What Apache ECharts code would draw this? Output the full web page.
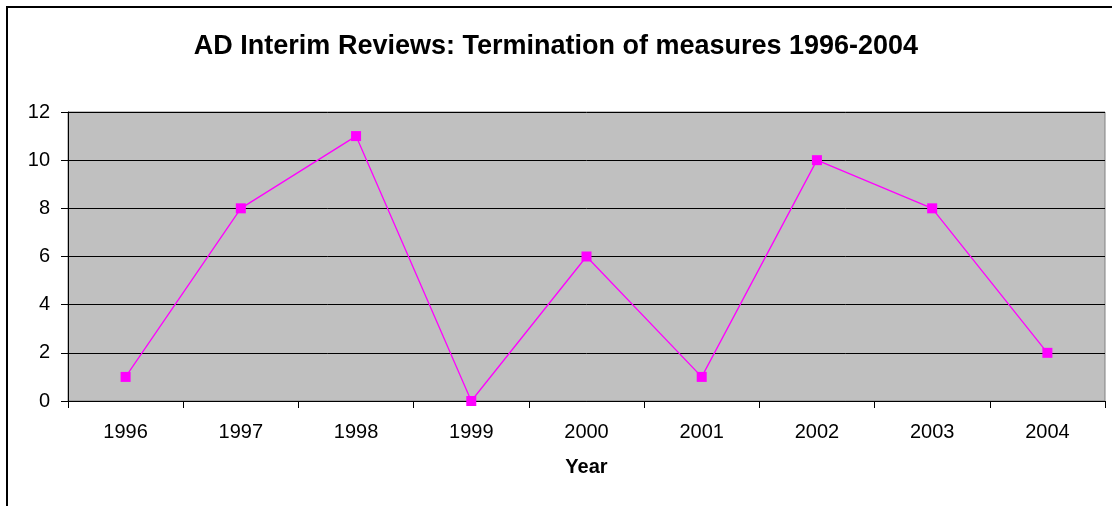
<!DOCTYPE html>
<html>
<head>
<meta charset="utf-8">
<script src="https://cdn.jsdelivr.net/npm/echarts@6/dist/echarts.min.js"></script>
<style>
  html, body { margin: 0; padding: 0; background: #fff; overflow: hidden; }
  #frame { position: absolute; left: 6px; top: 6px; width: 1300px; height: 700px; border: 2px solid #000; box-sizing: border-box; }
  #chart { position: absolute; left: 0; top: 0; width: 1112px; height: 506px; }
</style>
</head>
<body>
<div id="frame"></div>
<div id="chart"></div>
<script>
// chart data
const years = ["1996", "1997", "1998", "1999", "2000", "2001", "2002", "2003", "2004"];
const terminations = [1, 8, 11, 0, 6, 1, 10, 8, 2];

const chart = echarts.init(document.getElementById("chart"), null, { renderer: "canvas" });

const option = {
  animation: false,
  textStyle: { fontFamily: "Liberation Sans, Arial, sans-serif" },
  title: {
    text: "AD Interim Reviews: Termination of measures 1996-2004",
    left: "center",
    top: 28,
    textStyle: { fontSize: 27, fontWeight: "bold", color: "#000" }
  },
  grid: {
    left: 68, right: 7, top: 112, bottom: 105,
    show: true,
    backgroundColor: "#C0C0C0",
    borderColor: "#808080",
    borderWidth: 1
  },
  xAxis: {
    type: "category",
    data: years,
    boundaryGap: true,
    name: "Year",
    nameLocation: "middle",
    nameGap: 56,
    nameTextStyle: { fontSize: 20, fontWeight: "bold", color: "#000", verticalAlign: "top" },
    axisLine: { lineStyle: { color: "#000", width: 1 } },
    axisTick: { show: true, length: 7, lineStyle: { color: "#000" } },
    axisLabel: { fontSize: 20, color: "#000", margin: 21 },
    splitLine: { show: false }
  },
  yAxis: {
    type: "value",
    min: 0,
    max: 12,
    interval: 2,
    axisLine: { show: true, lineStyle: { color: "#000", width: 1 } },
    axisTick: { show: true, length: 7, lineStyle: { color: "#000" } },
    axisLabel: { fontSize: 20, color: "#000", margin: 18 },
    splitLine: { show: true, lineStyle: { color: "#000", width: 1 } }
  },
  series: [{
    type: "line",
    data: terminations,
    symbol: "rect",
    symbolSize: 10,
    lineStyle: { color: "#FF00FF", width: 1.3 },
    itemStyle: { color: "#FF00FF" }
  }]
};

chart.setOption(option);
</script>
</body>
</html>
